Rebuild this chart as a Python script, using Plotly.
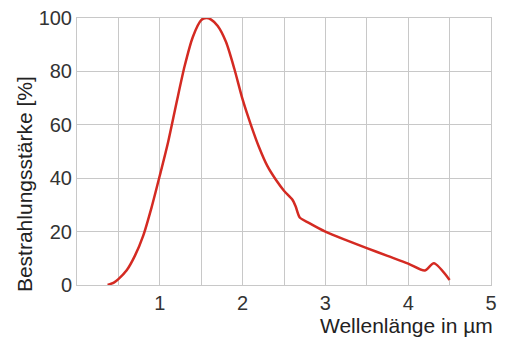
import plotly.graph_objects as go

# Wavelength in µm and relative irradiance in %
wavelength = [0.37, 0.45, 0.5, 0.6, 0.7, 0.8, 0.9, 1.0, 1.1, 1.2, 1.3, 1.4, 1.5, 1.56,
              1.62, 1.7, 1.8, 1.9, 2.0, 2.1, 2.2, 2.3, 2.4, 2.5, 2.6, 2.64, 2.69, 2.8,
              3.0, 3.25, 3.5, 3.75, 4.0, 4.2, 4.31, 4.5]
irradiance = [0, 1, 2.2, 5.5, 11, 18.5, 29, 41, 53.5, 68, 82, 93, 99.2, 100,
              99.4, 97, 91, 81, 69.5, 60, 51.5, 44.5, 39.5, 35.3, 32, 29.5, 25.3, 23.3,
              20, 16.8, 13.8, 10.9, 8, 5.4, 8.1, 1.9]

x_tickvals = [0, 0.5, 1, 1.5, 2, 2.5, 3, 3.5, 4, 4.5, 5]
x_ticktext = ["", "", "1", "", "2", "", "3", "", "4", "", "5"]
y_tickvals = [0, 20, 40, 60, 80, 100]

grid = "#c8c8c8"
font = "Liberation Sans, Arial, sans-serif"

fig = go.Figure()
fig.add_trace(go.Scatter(
    x=wavelength, y=irradiance, mode="lines",
    line=dict(color="#d42a22", width=2.5, shape="spline", smoothing=0.7),
    hoverinfo="skip", showlegend=False,
))

# the page body has an 8px default margin, so the figure is sized/offset for it
fig.update_layout(
    width=498, height=330,
    margin=dict(l=69, r=15, t=10, b=53, autoexpand=False),
    paper_bgcolor="white", plot_bgcolor="white",
    font=dict(family=font, size=20, color="#333333"),
    xaxis=dict(range=[0, 5], tickmode="array", tickvals=x_tickvals, ticktext=x_ticktext,
               showgrid=True, gridcolor=grid, gridwidth=1, zeroline=False,
               showline=True, linecolor=grid, linewidth=1, mirror=True,
               ticks="", automargin=False, tickfont=dict(size=20, color="#333333")),
    yaxis=dict(range=[0, 100], tickmode="array", tickvals=y_tickvals,
               showgrid=True, gridcolor=grid, gridwidth=1, zeroline=False,
               showline=True, linecolor=grid, linewidth=1, mirror=True,
               ticks="", ticklabeloverflow="allow", automargin=False,
               tickfont=dict(size=20, color="#333333")),
    annotations=[
        dict(text="Bestrahlungsstärke [%]", xref="paper", yref="paper",
             x=-0.128, y=0.378, xanchor="center", yanchor="middle", textangle=-90,
             showarrow=False, font=dict(size=21, color="#222222", family=font)),
        dict(text="Wellenlänge in µm", xref="paper", yref="paper",
             x=1, y=-0.15, xanchor="right", yanchor="middle", xshift=4,
             showarrow=False, font=dict(size=21, color="#222222", family=font)),
    ],
)

fig.write_html("out.html")
